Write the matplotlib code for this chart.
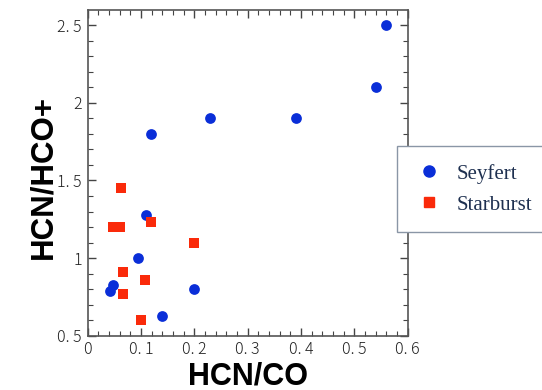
import matplotlib
matplotlib.use("Agg")
import matplotlib.pyplot as plt
from matplotlib.ticker import MultipleLocator, FixedLocator, FixedFormatter
from matplotlib.lines import Line2D

# HCN/CO vs HCN/HCO+ line ratios
seyfert_x = [0.56, 0.54, 0.39, 0.23, 0.119, 0.109, 0.095, 0.047, 0.042, 0.20, 0.139]
seyfert_y = [2.50, 2.10, 1.90, 1.90, 1.80, 1.28, 1.00, 0.83, 0.79, 0.80, 0.63]

starburst_x = [0.063, 0.119, 0.048, 0.060, 0.20, 0.067, 0.108, 0.067, 0.10]
starburst_y = [1.45, 1.23, 1.20, 1.20, 1.10, 0.91, 0.86, 0.77, 0.60]

x_ticks = [0, 0.1, 0.2, 0.3, 0.4, 0.5, 0.6]
x_tick_labels = ["0", "0. 1", "0. 2", "0. 3", "0. 4", "0. 5", "0. 6"]
y_ticks = [0.5, 1, 1.5, 2, 2.5]
y_tick_labels = ["0. 5", "1", "1. 5", "2", "2. 5"]

fig = plt.figure(figsize=(5.42, 3.90), dpi=100)
ax = fig.add_axes([87.5 / 542, 1 - 335.8 / 390, (407.7 - 87.5) / 542, (335.8 - 10) / 390])

ax.scatter(seyfert_x, seyfert_y, s=60, marker="o", color="#0a2ed8", linewidths=0, zorder=3)
ax.scatter(starburst_x, starburst_y, s=50, marker="s", color="#fa2a0a", linewidths=0, zorder=3)

ax.set_xlim(0, 0.6)
ax.set_ylim(0.5, 2.597)

ax.xaxis.set_major_locator(FixedLocator(x_ticks))
ax.xaxis.set_major_formatter(FixedFormatter(x_tick_labels))
ax.yaxis.set_major_locator(FixedLocator(y_ticks))
ax.yaxis.set_major_formatter(FixedFormatter(y_tick_labels))
ax.xaxis.set_minor_locator(MultipleLocator(0.02))
ax.yaxis.set_minor_locator(MultipleLocator(0.1))

ax.tick_params(which="both", direction="in", top=True, right=True, colors="#444444",
               labelcolor="#222222")
ax.tick_params(which="major", length=6, width=1.0, labelsize=11.5, pad=4)
ax.tick_params(which="minor", length=3.5, width=0.8)
for lab in ax.get_xticklabels() + ax.get_yticklabels():
    lab.set_family(["Noto Sans CJK JP", "DejaVu Sans"])
    lab.set_fontweight("light")
for sp in ax.spines.values():
    sp.set_color("#555555")
    sp.set_linewidth(1.2)

ax.set_xlabel("HCN/CO", fontsize=22, fontweight="bold", family="Liberation Sans", labelpad=2)
fig.text(43 / 542, 1 - 177 / 390, "HCN/HCO+", rotation=90, fontsize=22.5, fontweight="bold",
         family="Liberation Sans", ha="center", va="center")

handles = [
    Line2D([], [], marker="o", linestyle="none", color="#0a2ed8", markersize=8),
    Line2D([], [], marker="s", linestyle="none", color="#fa2a0a", markersize=7),
]
leg = fig.legend(handles, ["Seyfert", "Starburst"], loc="upper left",
                 bbox_to_anchor=(397 / 542, 1 - 146 / 390), frameon=True, fancybox=False,
                 framealpha=1.0, prop={"family": "Liberation Serif", "size": 15},
                 handletextpad=0.6, handlelength=1.4, borderpad=0.85, labelspacing=0.55,
                 borderaxespad=0)
leg.get_frame().set_edgecolor("#8a96a6")
leg.get_frame().set_linewidth(1.0)
for t in leg.get_texts():
    t.set_color("#1e3050")

fig.savefig("out.png", dpi=100)
